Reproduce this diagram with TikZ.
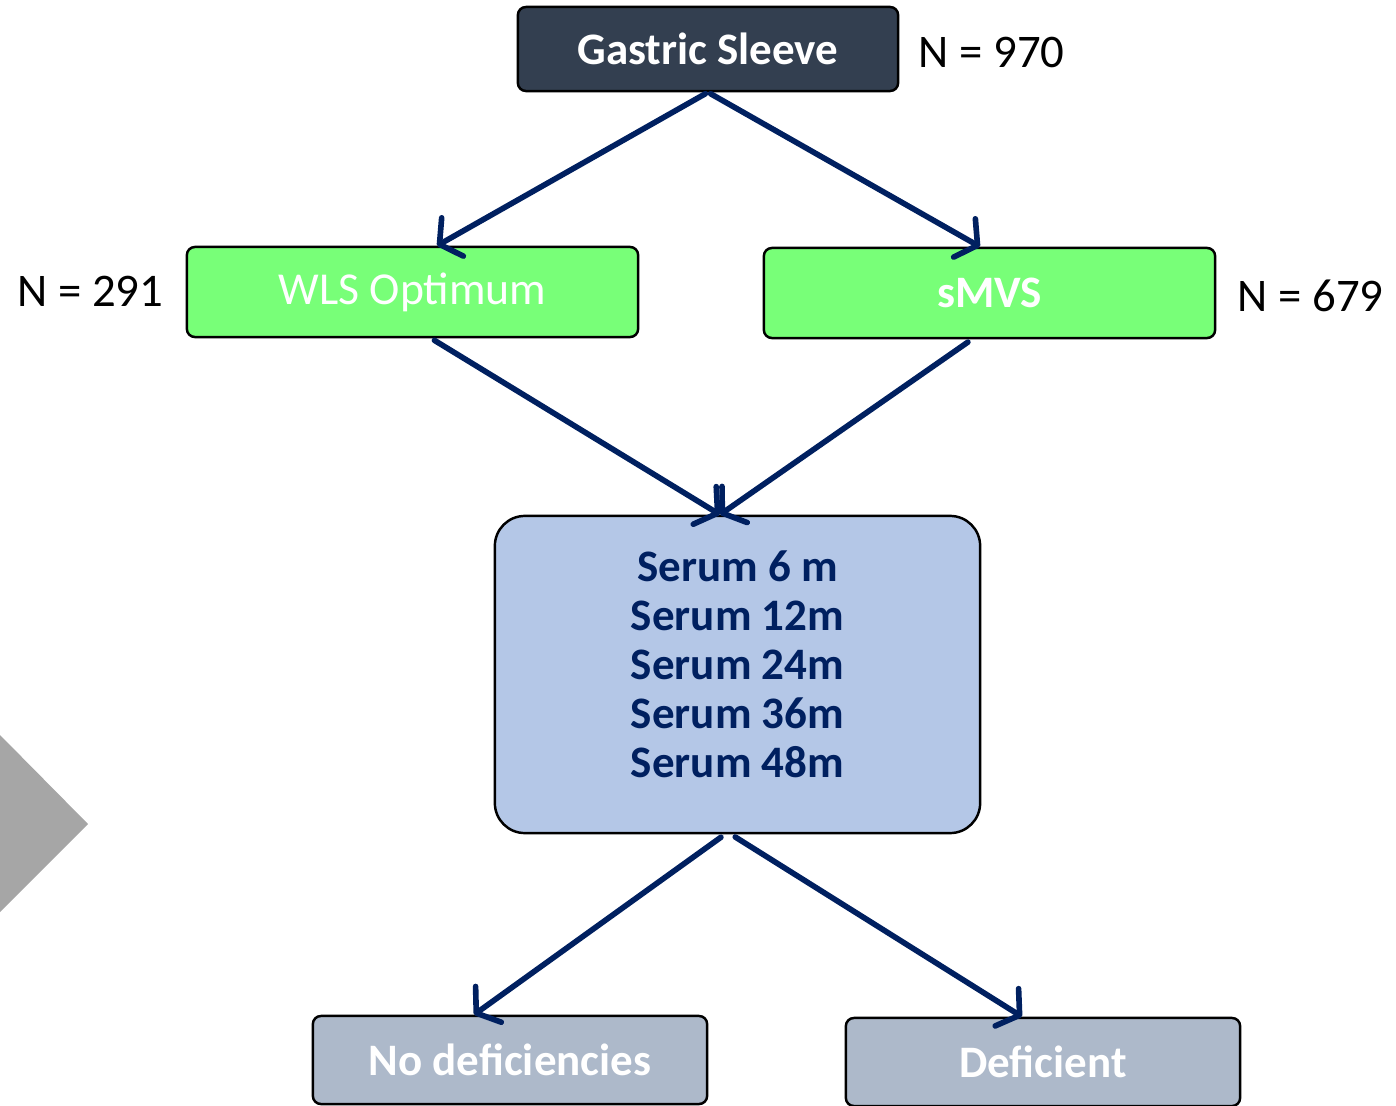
\documentclass[tikz,border=0pt]{standalone}
\usepackage{fontspec}
\setmainfont{Carlito}
\usetikzlibrary{arrows.meta}
\definecolor{gsfill}{HTML}{333F50}
\definecolor{grn}{HTML}{78FF78}
\definecolor{serumfill}{HTML}{B4C7E7}
\definecolor{navy}{HTML}{002060}
\definecolor{outfill}{HTML}{ADB9CA}
\definecolor{chev}{HTML}{A6A6A6}
\tikzset{
  box/.style={draw=black, line width=0.7pt, rounded corners=0.08cm, inner sep=0pt, align=center},
  boldtxt/.style={font=\fontsize{12.8}{14}\selectfont\bfseries},
  nlabel/.style={font=\fontsize{13.3}{15}\selectfont, inner sep=0pt},
  conn/.style={draw=navy, line width=1.6pt, line cap=round, -{Straight Barb[round, length=0.15cm, width=0.44cm]}},
}
\begin{document}
\begin{tikzpicture}[x=0.01cm, y=-0.01cm]
\useasboundingbox (0,0) rectangle (1396,1106);
\fill[chev] (0,735) -- (88,824) -- (0,912) -- cycle;
\node[box, boldtxt, fill=gsfill, text=white, minimum width=3.8cm, minimum height=0.84cm] (gs) at (708,49) {Gastric Sleeve};
\node[nlabel, anchor=west] (n970) at (918,52) {N = 970};
\node[box, fill=grn, text=white, font=\fontsize{13}{15}\selectfont, minimum width=4.51cm, minimum height=0.9cm] (wls) at (412.5,292) {WLS Optimum};
\node[box, boldtxt, fill=grn, text=white, minimum width=4.51cm, minimum height=0.9cm] (smvs) at (989.5,293) {sMVS};
\node[nlabel, anchor=east] (n291) at (164,291) {N = 291};
\node[nlabel, anchor=west] (n679) at (1237,296) {N = 679};
\node[box, rounded corners=0.3cm, fill=serumfill, minimum width=4.85cm, minimum height=3.17cm] (serum) at (737.5,674.5) {};
\node[align=center, inner sep=0pt, text=navy, font=\fontsize{12.8}{13.95}\selectfont\bfseries] (serumtxt) at ([yshift=0.105cm]serum.center) {Serum 6 m\\Serum 12m\\Serum 24m\\Serum 36m\\Serum 48m};
\node[box, boldtxt, fill=outfill, text=white, minimum width=3.94cm, minimum height=0.88cm] (nodef) at (510,1060) {No deficiencies};
\node[box, boldtxt, fill=outfill, text=white, minimum width=3.94cm, minimum height=0.88cm] (def) at (1043,1062) {Deficient};
\draw[conn, shorten <=0.03cm] (gs.south) -- ([xshift=0.245cm]wls.north);
\draw[conn, shorten <=0.03cm] (gs.south) -- ([xshift=-0.095cm]smvs.north);
\draw[conn, shorten <=0.04cm] ([xshift=0.185cm]wls.south) -- ([xshift=-0.175cm]serum.north);
\draw[conn, shorten <=0.05cm] ([xshift=-0.175cm]smvs.south) -- ([xshift=-0.175cm]serum.north);
\draw[conn, shorten <=0.05cm] ([xshift=-0.125cm]serum.south) -- ([xshift=-0.36cm]nodef.north);
\draw[conn, shorten <=0.05cm] ([xshift=-0.065cm]serum.south) -- ([xshift=-0.21cm]def.north);
\end{tikzpicture}
\end{document}
